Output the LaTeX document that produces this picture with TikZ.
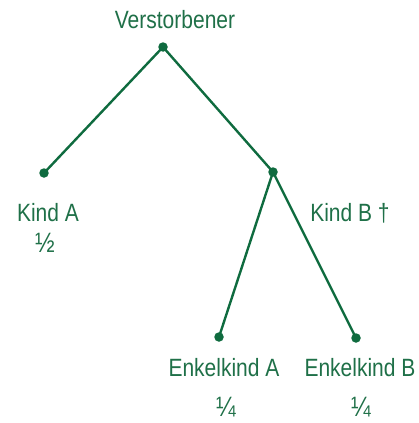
\documentclass[tikz,border=0pt]{standalone}
\usepackage{fontspec}
\setmainfont{Liberation Sans}[FakeStretch=0.84]
\definecolor{grn}{HTML}{0F6B3F}
\definecolor{txtgrn}{HTML}{1F7048}
\begin{document}
\begin{tikzpicture}[x=1pt,y=-1pt,
  edge/.style={draw=grn,line width=2.4pt},
  dot/.style={circle,fill=grn,inner sep=0pt,minimum size=9.5pt},
  lbl/.style={text=txtgrn,font=\fontsize{25}{28}\selectfont,inner sep=0pt,anchor=center},
  frac/.style={text=txtgrn,font=\fontsize{28}{30}\selectfont,inner sep=0pt,anchor=center}]
\useasboundingbox (0,0) rectangle (418,423);
\node[dot] (r) at (163,47) {};
\node[dot] (a) at (44,173) {};
\node[dot] (b) at (273,172) {};
\node[dot] (ea) at (219,337) {};
\node[dot] (eb) at (356,338) {};
\draw[edge] (r.center) -- (a.center);
\draw[edge] (r.center) -- (b.center);
\draw[edge] (b.center) -- (ea.center);
\draw[edge] (b.center) -- (eb.center);
\node[lbl] (tr) at (175,20) {Verstorbener};
\node[lbl] (ta) at (48,213) {Kind A};
\node[frac] (fa) at (45,243) {½};
\node[lbl] (tb) at (350,213) {Kind B †};
\node[lbl] (tea) at (224,368) {Enkelkind A};
\node[frac] (fea) at (226,407) {¼};
\node[lbl] (teb) at (360,368) {Enkelkind B};
\node[frac] (feb) at (361,407) {¼};
\end{tikzpicture}
\end{document}
